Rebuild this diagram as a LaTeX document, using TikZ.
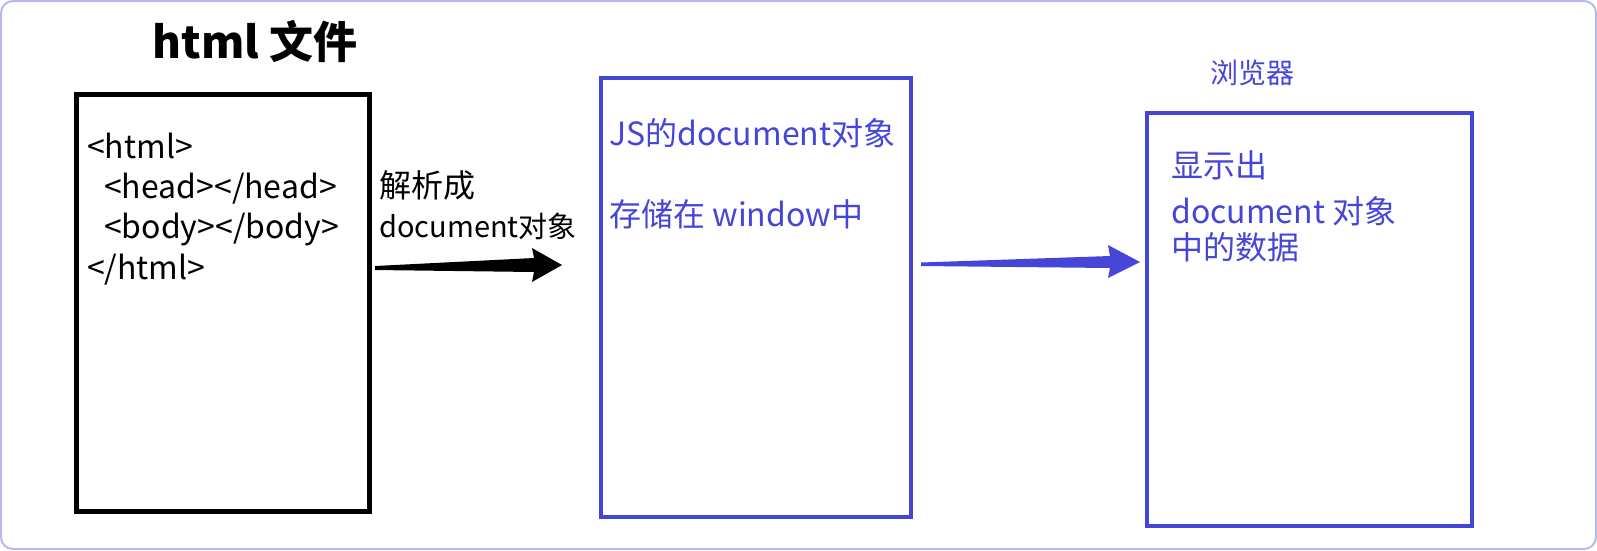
\documentclass[tikz,border=0pt]{standalone}
\usepackage{fontspec}
\setmainfont{Noto Sans CJK SC}
\definecolor{myblue}{HTML}{4545D8}
\definecolor{frame}{HTML}{B8B8F0}
\begin{document}
\begin{tikzpicture}[x=1pt,y=-1pt,
  txt/.style={anchor=west,inner sep=0pt,font=\fontsize{32}{38}\selectfont},
  btxt/.style={txt,text=myblue},
  bbox/.style={draw=myblue,line width=4.5pt},
  kbox/.style={draw=black,line width=5pt}]
\useasboundingbox (0,0) rectangle (1597,550);
\draw[frame,line width=2pt,rounded corners=12pt] (1,1) rectangle (1596,549);
\draw[kbox] (76,94) rectangle (369,511);
\draw[bbox] (601,78) rectangle (911,517);
\draw[bbox] (1147,113) rectangle (1472,526);
\node[inner sep=0pt,font=\fontsize{44}{50}\selectfont\bfseries] (title) at (255,41) {html 文件};
\node[btxt,anchor=center,font=\fontsize{28}{32}\selectfont] (br) at (1252,73) {浏览器};
\node[txt] (l1) at (87,146) {<html>};
\node[txt] (l2) at (104,189) {<head></head>};
\node[txt] (l3) at (104,229) {<body></body>};
\node[txt] (l4) at (87,270) {</html>};
\node[txt] (p1) at (379,185) {解析成};
\node[txt,font=\fontsize{29}{34}\selectfont] (p2) at (379,226) {document对象};
\node[btxt] (j1) at (609,133) {JS的document对象};
\node[btxt] (j2) at (609,214) {存储在 window中};
\node[btxt] (s1) at (1171,165) {显示出};
\node[btxt] (s2) at (1171,211) {document 对象};
\node[btxt] (s3) at (1171,247) {中的数据};
\coordinate (a1s) at (375,268); \coordinate (a1e) at (562,265);
\coordinate (a2s) at (921,264); \coordinate (a2e) at (1140,262);
\fill[black] (a1s) -- ++(0,-2) -- (534,258) -- (532,248) -- (a1e) -- (532,282) -- (534,272) -- (375,270) -- cycle;
\fill[myblue] (a2s) -- ++(0,-1.5) -- (1110,256) -- (1108,245) -- (a2e) -- (1108,278) -- (1110,268) -- (921,266) -- cycle;
\end{tikzpicture}
\end{document}
